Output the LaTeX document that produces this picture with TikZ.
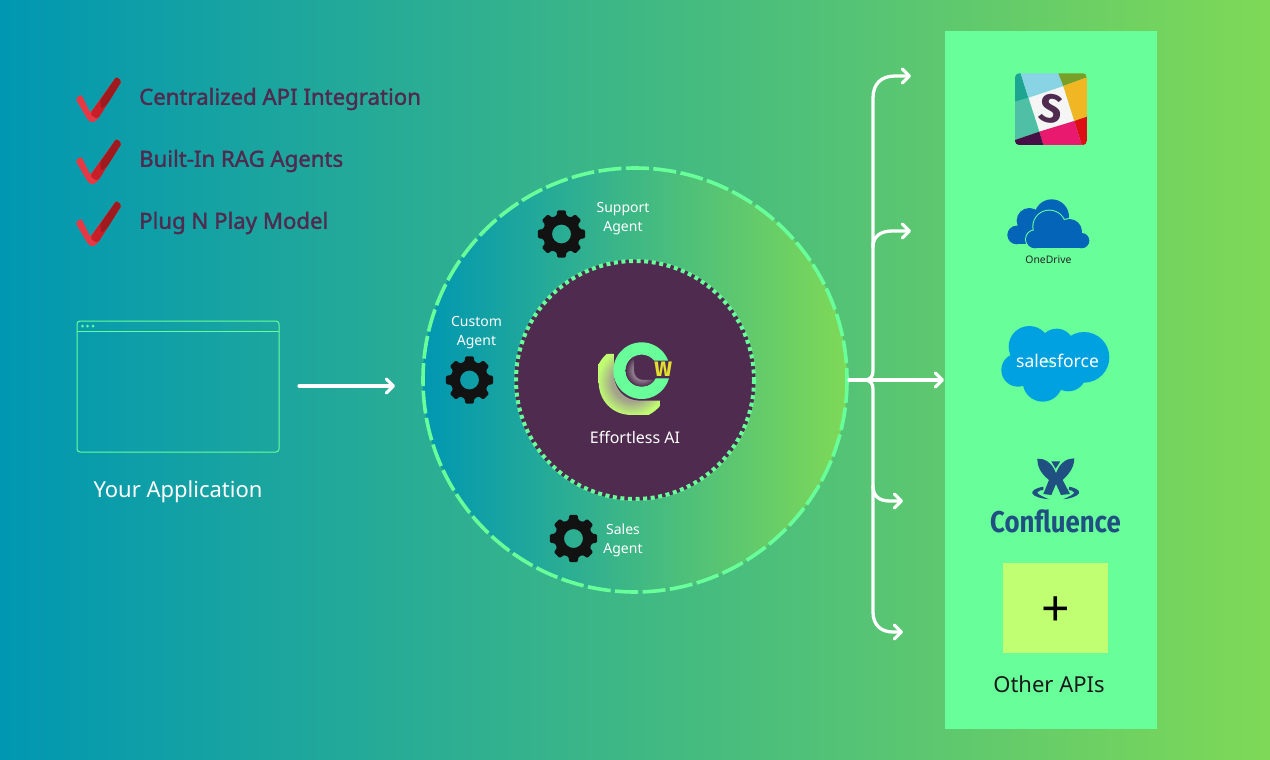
\documentclass[tikz,border=0pt]{standalone}
\usepackage{fontspec}
\setmainfont{Noto Sans}
\newfontfamily\firafont{Fira Sans}
\newfontfamily\heavyfont[FakeBold=1.6]{Noto Sans}
\usetikzlibrary{arrows.meta}
\definecolor{bgL}{HTML}{0097B2}
\definecolor{bgR}{HTML}{7ED957}
\definecolor{mint}{HTML}{68FF9A}
\definecolor{plum}{HTML}{4F2B4F}
\definecolor{lime}{HTML}{C1FF72}
\definecolor{limegray}{HTML}{A3A38C}
\definecolor{shadowgray}{HTML}{8F7E8E}
\definecolor{odblue}{HTML}{0364B8}
\definecolor{sfblue}{HTML}{00A1E0}
\definecolor{cfblue}{HTML}{205081}
\definecolor{chkA}{HTML}{E63946}
\definecolor{chkB}{HTML}{C81E28}
\definecolor{chkC}{HTML}{9E1A1E}
\definecolor{wyellow}{HTML}{E2E02C}
\definecolor{skWhite}{HTML}{F5F5F5}
\definecolor{skTeal}{HTML}{4FBFA5}
\definecolor{skTealD}{HTML}{1EA591}
\definecolor{skBlue}{HTML}{88D4E4}
\definecolor{skOlive}{HTML}{78A028}
\definecolor{skYellow}{HTML}{F0B623}
\definecolor{skRed}{HTML}{DE0F14}
\definecolor{skPink}{HTML}{E8196E}
\definecolor{skPurple}{HTML}{461046}
\pgfdeclareradialshading{lgrad}{\pgfpoint{0bp}{0bp}}{color(0bp)=(limegray); color(13bp)=(limegray); color(23bp)=(lime); color(50bp)=(lime)}
\pgfdeclareradialshading{sgrad}{\pgfpoint{0bp}{0bp}}{color(0bp)=(shadowgray); color(14bp)=(shadowgray); color(25bp)=(plum); color(50bp)=(plum)}
\tikzset{
  flow/.style={draw=white,line width=3.3pt,line cap=round,line join=round},
  tip/.style={-{Straight Barb[length=7pt,width=14pt,line width=3.3pt,round]}},
  labelw/.style={text=white,align=center,inner sep=0pt,font=\fontsize{14}{19}\selectfont},
  checktext/.style={text=plum,anchor=west,inner sep=0pt,font=\heavyfont\fontsize{22.2}{24}\selectfont},
  big/.style={inner sep=0pt,font=\fontsize{22}{26}\selectfont},
  gearicon/.pic={
    \fill[black!93,even odd rule,rounded corners=1.2pt] (-15:19)
      \foreach \a in {0,45,...,315} { -- (\a-15:19) -- (\a-10:24) -- (\a+10:24) -- (\a+15:19) } -- cycle
      (0,0) circle (9.5);
  },
  checkicon/.pic={
    \begin{scope}[x=0.3333pt,y=-0.3333pt]
      \fill[chkA,rounded corners=2pt] (-8,-3) -- (10,-15) -- (37,40) -- (115,-68) -- (131,-55) -- (57,62) -- (42,70) -- (30,62) -- cycle;
      \fill[chkB,rounded corners=2pt] (37,42) -- (115,-68) -- (131,-55) -- (60,58) -- (42,50) -- cycle;
      \fill[chkC,rounded corners=2pt] (66,4) -- (115,-68) -- (131,-55) -- (88,14) -- (70,28) -- cycle;
    \end{scope}
  }
}
\begin{document}
\begin{tikzpicture}[x=1pt,y=-1pt]
\useasboundingbox (0,0) rectangle (1270,760);
\shade[left color=bgL,right color=bgR] (0,0) rectangle (1270,760);

% checklist
\pic (chk1) at (78,99.5) {checkicon};
\pic (chk2) at (78,161.5) {checkicon};
\pic (chk3) at (78,223.5) {checkicon};
\node[checktext] (t1) at (139,99) {Centralized API Integration};
\node[checktext] (t2) at (139,161) {Built-In RAG Agents};
\node[checktext] (t3) at (139,223) {Plug N Play Model};

% application window
\draw[mint,line width=1pt,rounded corners=3pt] (77,321) rectangle (279,452);
\draw[mint,line width=1pt] (77,331) -- (279,331);
\fill[mint] (82.5,326) circle (1.5) (87.5,326) circle (1.5) (93,326) circle (1.5);
\node[big,text=white] (app) at (178,492) {Your Application};

% ring
\shade[left color=bgL,right color=bgR] (635,380) circle (212);
\draw[mint,line width=3.6pt,dash pattern=on 23pt off 4.5pt] (635,380) circle (212);
\fill[plum] (635,380) circle (120.5);
\draw[mint,line width=4pt,dash pattern=on 4pt off 3.6pt] (635,380) circle (119);

% gears
\pic (g1) at (561.5,234) {gearicon};
\pic (g2) at (469.5,380) {gearicon};
\pic (g3) at (573.5,538.5) {gearicon};
\node[labelw] (l1) at (623,218.5) {Support\\Agent};
\node[labelw] (l2) at (476.5,333) {Custom\\Agent};
\node[labelw] (l3) at (623,540.5) {Sales\\Agent};

% logo
\begin{scope}[shift={(500,250)},x=0.3333pt,y=-0.3333pt]
  \begin{scope}
    \clip (296,312) -- (342,312) -- (342,372) .. controls (342,420) and (375,452) .. (420,452) -- (480,452) -- (480,495) -- (395,495) .. controls (335,495) and (296,450) .. (296,395) -- cycle;
    \shade[shading=lgrad] (395,395) circle (112);
  \end{scope}
  \fill[mint] plot[domain=20.7:344.3,samples=80] ({425+85*cos(\x)},{362-85*sin(\x)})
     -- plot[domain=331.4:38.7,samples=50] ({425+48*cos(\x)},{362-48*sin(\x)}) -- cycle;
  \begin{scope}
    \clip (372,318) -- (402,318) -- (402,362) .. controls (402,378) and (414,390) .. (430,390) -- (476,390) -- (476,408) -- (372,408) -- cycle;
    \shade[shading=sgrad] (425,362) circle (48);
  \end{scope}
  \node[inner sep=0pt,text=wyellow,font=\firafont\fontsize{21}{22}\selectfont\bfseries] (w) at (490,357) {W};
\end{scope}
\node[inner sep=0pt,text=white,font=\fontsize{16}{18}\selectfont] (eai) at (635,437.5) {Effortless AI};

% panel
\fill[mint] (945,31) rectangle (1157,729);

% slack
\begin{scope}[shift={(990,60)},x=0.3333pt,y=-0.3333pt]
  \clip[rounded corners=4pt] (75,40) rectangle (291,255);
  \fill[skWhite] (115,113) -- (220,78) -- (253,183) -- (148,215) -- cycle;
  \fill[skTeal] (75,125) -- (115,113) -- (148,215) -- (75,240) -- cycle;
  \fill[skTealD] (75,40) -- (92,40) -- (115,113) -- (75,125) -- cycle;
  \fill[skBlue] (92,40) -- (205,40) -- (220,78) -- (115,113) -- cycle;
  \fill[skOlive] (205,40) -- (291,40) -- (291,52) -- (220,78) -- cycle;
  \fill[skYellow] (220,78) -- (291,52) -- (291,170) -- (253,183) -- cycle;
  \fill[skRed] (253,183) -- (291,170) -- (291,255) -- (275,255) -- cycle;
  \fill[skPink] (148,215) -- (253,183) -- (275,255) -- (160,255) -- cycle;
  \fill[skPurple] (75,240) -- (148,215) -- (160,255) -- (75,255) -- cycle;
  \node[inner sep=0pt,text=plum,rotate=-10,font=\firafont\fontsize{40}{40}\selectfont\bfseries] (slackS) at (183,147) {S};
\end{scope}

% onedrive
\begin{scope}[shift={(990,60)},x=0.3333pt,y=-0.3333pt]
  \fill[odblue] (80,525) circle (28) (118,482) circle (38) (185,470) circle (52);
  \fill[odblue] (80,500) rectangle (180,553);
  \draw[mint,line width=2pt] (135,538) circle (27) (178,500) circle (48) (238,515) circle (38) (275,542) circle (23);
  \fill[mint] (135,530) rectangle (275,568);
  \fill[odblue] (135,538) circle (27) (178,500) circle (48) (238,515) circle (38) (275,542) circle (23);
  \fill[odblue] (135,530) rectangle (275,565);
  \fill[odblue] (135,500) rectangle (238,540);
\end{scope}
\node[inner sep=0pt,text=black!85,font=\fontsize{10.4}{13}\selectfont] (od) at (1048.5,260) {OneDrive};

% salesforce
\begin{scope}[shift={(980,310)},x=0.3333pt,y=-0.3333pt]
  \fill[sfblue] (148,110) circle (62) (230,108) circle (52) (312,142) circle (76) (114,180) circle (50) (188,215) circle (60) (265,190) circle (54);
\end{scope}
\node[inner sep=0pt,text=white,font=\fontsize{17.5}{22}\selectfont] (sf) at (1057.5,360.5) {salesforce};

% confluence
\begin{scope}[shift={(980,310)},x=0.3333pt,y=-0.3333pt]
  \fill[cfblue] (172,446) .. controls (192,445) and (216,456) .. (228,490) .. controls (240,456) and (262,445) .. (283,445)
     .. controls (282,478) and (262,496) .. (248,510) -- (270,552) -- (243,555) -- (228,522) -- (214,555) -- (190,552) -- (207,510) .. controls (190,496) and (172,478) .. (172,446) -- cycle;
  \fill[cfblue] (214,454) -- (241,454) -- (227,476) -- cycle;
  \fill[cfblue] (190,530) .. controls (165,535) and (155,542) .. (157,550) .. controls (160,560) and (185,566) .. (207,568) .. controls (185,558) and (170,552) .. (172,547) .. controls (175,542) and (185,540) .. (190,540) -- cycle;
  \fill[cfblue] (268,530) .. controls (290,535) and (300,542) .. (297,550) .. controls (290,560) and (270,566) .. (250,568) .. controls (270,558) and (284,552) .. (282,547) .. controls (280,542) and (270,540) .. (266,540) -- cycle;
\end{scope}
\node[inner sep=0pt,text=cfblue,font=\firafont\fontsize{30}{32}\selectfont\bfseries] (cf) at (1055.5,521) {\scalebox{0.86}[1]{Confluence}};

% other APIs
\fill[lime] (1003,563) rectangle (1108,653);
\node[inner sep=0pt,text=black,font=\fontsize{50}{54}\selectfont] (plus) at (1055.5,612) {+};
\node[big,text=black!90] (other) at (1049,684) {Other APIs};

% connectors
\coordinate (appOut) at (299,386);
\coordinate (ringIn) at (395,386);
\coordinate (ringOut) at (849,380);
\coordinate (hub) at (873,380);
\coordinate (a1) at (911,76);
\coordinate (a2) at (911,231);
\coordinate (a3) at (944,380);
\coordinate (a4) at (903,501);
\coordinate (a5) at (903,632);
\draw[flow,tip] (appOut) -- (ringIn);
\draw[flow,tip] (ringOut) -- (a3);
\draw[flow,tip] (864,380) .. controls (870,380) and (873,377) .. (873,371) -- (873,98) .. controls (873,84) and (881,76) .. (895,76) -- (a1);
\draw[flow,tip] (873,247) .. controls (873,236) and (881,231) .. (892,231) -- (a2);
\draw[flow,tip] (864,380) .. controls (870,380) and (873,383) .. (873,389) -- (873,612) .. controls (873,625) and (881,632) .. (893,632) -- (a5);
\draw[flow,tip] (873,486) .. controls (873,496) and (879,501) .. (890,501) -- (a4);
\end{tikzpicture}
\end{document}
